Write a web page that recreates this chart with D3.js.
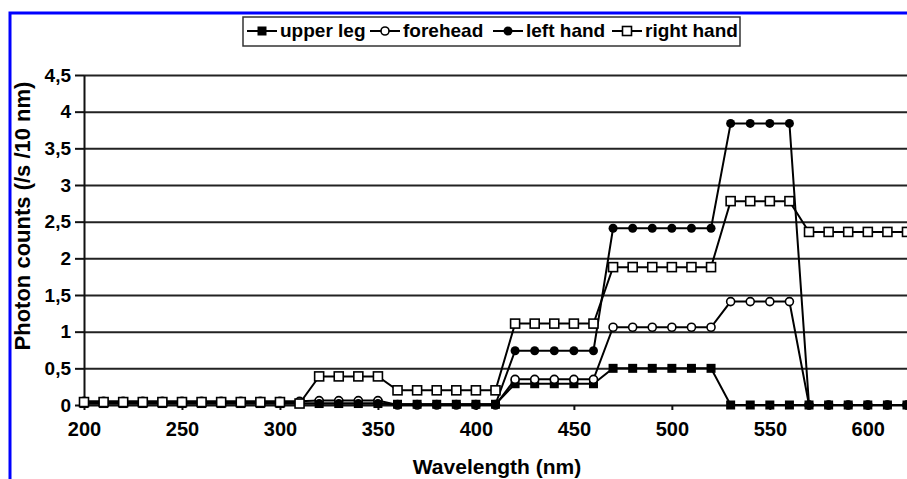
<!DOCTYPE html>
<html>
<head>
<meta charset="utf-8">
<script src="https://cdn.jsdelivr.net/npm/d3@7"></script>
<style>
  body { margin: 0; background: #fff; }
  text { font-family: "Liberation Sans", Arial, sans-serif; font-weight: bold; fill: #000; }
  .grid line { stroke: #222; stroke-width: 2; }
  .grid .domain { display: none; }
</style>
</head>
<body>
<div id="viz_container"></div>
<script>
// categories (nm)
const wavelengths = [200, 210, 220, 230, 240, 250, 260, 270, 280, 290, 300, 310, 320, 330, 340, 350,
    360, 370, 380, 390, 400, 410, 420, 430, 440, 450, 460, 470, 480, 490, 500, 510, 520,
    530, 540, 550, 560, 570, 580, 590, 600, 610, 620];

// photon counts (/s /10 nm)
const upperLeg = [0.02, 0.02, 0.02, 0.02, 0.02, 0.02, 0.02, 0.02, 0.02, 0.02, 0.02, 0.02, 0.02, 0.02, 0.02, 0.02,
    0.01, 0.01, 0.01, 0.01, 0.01, 0.01, 0.29, 0.29, 0.29, 0.29, 0.29, 0.5, 0.5, 0.5, 0.5, 0.5, 0.5,
    0, 0, 0, 0, 0, 0, 0, 0, 0, 0];
const forehead = [0.05, 0.05, 0.05, 0.05, 0.05, 0.05, 0.05, 0.05, 0.05, 0.05, 0.05, 0.05, 0.06, 0.06, 0.06, 0.06,
    0, 0, 0, 0, 0, 0, 0.35, 0.35, 0.35, 0.35, 0.35, 1.06, 1.06, 1.06, 1.06, 1.06, 1.06,
    1.41, 1.41, 1.41, 1.41, 0, 0, 0, 0, 0, 0];
const leftHand = [0.02, 0.02, 0.02, 0.02, 0.02, 0.02, 0.02, 0.02, 0.02, 0.02, 0.02, 0.02, 0.02, 0.02, 0.02, 0.02,
    0.01, 0.01, 0.01, 0.01, 0.01, 0.01, 0.74, 0.74, 0.74, 0.74, 0.74, 2.41, 2.41, 2.41, 2.41, 2.41, 2.41,
    3.84, 3.84, 3.84, 3.84, 0, 0, 0, 0, 0, 0];
const rightHand = [0.04, 0.04, 0.04, 0.04, 0.04, 0.04, 0.04, 0.04, 0.04, 0.04, 0.04, 0.02, 0.39, 0.39, 0.39, 0.39,
    0.2, 0.2, 0.2, 0.2, 0.2, 0.2, 1.11, 1.11, 1.11, 1.11, 1.11, 1.88, 1.88, 1.88, 1.88, 1.88, 1.88,
    2.78, 2.78, 2.78, 2.78, 2.36, 2.36, 2.36, 2.36, 2.36, 2.36];

const xTicks = [200, 250, 300, 350, 400, 450, 500, 550, 600];
const yTicks = [0, 0.5, 1, 1.5, 2, 2.5, 3, 3.5, 4, 4.5];

const seriesNames = ["upper leg", "forehead", "left hand", "right hand"];
const seriesValues = [upperLeg, forehead, leftHand, rightHand];
const markerTypes = ["filledSquare", "openCircle", "filledCircle", "openSquare"];

const W = 907, H = 479;
const plotLeft = 84, plotRight = 907, plotTop = 75, plotBottom = 405;

const svg = d3.select("#viz_container")
    .append("svg")
    .attr("width", W)
    .attr("height", H);

// blue frame
svg.append("rect")
    .attr("x", 10).attr("y", 13)
    .attr("width", 1000).attr("height", 1000)
    .attr("fill", "none")
    .attr("stroke", "#0000ff")
    .attr("stroke-width", 3);

const xScale = d3.scalePoint()
    .domain(wavelengths)
    .range([plotLeft, plotRight]);

const yScale = d3.scaleLinear()
    .domain([0, 4.5])
    .range([plotBottom, plotTop]);

// horizontal grid lines
svg.append("g")
    .attr("class", "grid")
    .attr("transform", `translate(${plotLeft},0)`)
    .call(d3.axisLeft(yScale).tickValues(yTicks.slice(1)).tickSize(-(plotRight - plotLeft + 5)).tickFormat(""));

// y axis
const yAxis = svg.append("g")
    .attr("transform", `translate(${plotLeft},0)`)
    .call(d3.axisLeft(yScale).tickValues(yTicks).tickSize(9).tickPadding(4).tickSizeOuter(0)
        .tickFormat(d => String(d).replace(".", ",")));
yAxis.selectAll("line, path").attr("stroke", "#111").attr("stroke-width", 2);
yAxis.selectAll("text").attr("font-size", 19).attr("fill", "#000");

// x axis
const xAxis = svg.append("g")
    .attr("transform", `translate(0,${plotBottom})`)
    .call(d3.axisBottom(xScale).tickValues(xTicks).tickSize(5).tickPadding(12).tickSizeOuter(0));
xAxis.selectAll("line, path").attr("stroke", "#111").attr("stroke-width", 2);
xAxis.selectAll("text").attr("font-size", 20).attr("fill", "#000");

// axis titles
svg.append("text")
    .attr("transform", `translate(30, 216) rotate(-90)`)
    .attr("text-anchor", "middle")
    .attr("font-size", 22)
    .text("Photon counts (/s /10 nm)");

svg.append("text")
    .attr("x", 497)
    .attr("y", 474)
    .attr("text-anchor", "middle")
    .attr("font-size", 21)
    .text("Wavelength (nm)");

// marker drawing
function drawMarker(g, type, x, y) {
    if (type === "filledSquare") {
        g.append("rect").attr("x", x - 4.5).attr("y", y - 4.5).attr("width", 9).attr("height", 9)
            .attr("fill", "#000");
    } else if (type === "openSquare") {
        g.append("rect").attr("x", x - 4.5).attr("y", y - 4.5).attr("width", 9).attr("height", 9)
            .attr("fill", "#fff").attr("stroke", "#000").attr("stroke-width", 1.6);
    } else if (type === "openCircle") {
        g.append("circle").attr("cx", x).attr("cy", y).attr("r", 4)
            .attr("fill", "#fff").attr("stroke", "#000").attr("stroke-width", 1.6);
    } else {
        g.append("circle").attr("cx", x).attr("cy", y).attr("r", 4.5)
            .attr("fill", "#000");
    }
}

const line = d3.line()
    .x(d => xScale(d[0]))
    .y(d => yScale(d[1]));

seriesValues.forEach((vals, i) => {
    const pts = wavelengths.map((w, j) => [w, vals[j]]);
    const g = svg.append("g");
    g.append("path")
        .attr("d", line(pts))
        .attr("fill", "none")
        .attr("stroke", "#000")
        .attr("stroke-width", 2);
    pts.forEach(p => drawMarker(g, markerTypes[i], xScale(p[0]), yScale(p[1])));
});

// legend
const legend = svg.append("g");
legend.append("rect")
    .attr("x", 243).attr("y", 17)
    .attr("width", 497).attr("height", 29)
    .attr("fill", "#fff")
    .attr("stroke", "#333")
    .attr("stroke-width", 1.5);

const legendStarts = [247, 370, 493, 612];
seriesNames.forEach((name, i) => {
    const lx = legendStarts[i];
    legend.append("line")
        .attr("x1", lx).attr("x2", lx + 30)
        .attr("y1", 31).attr("y2", 31)
        .attr("stroke", "#000").attr("stroke-width", 2);
    drawMarker(legend, markerTypes[i], lx + 15, 31);
    legend.append("text")
        .attr("x", lx + 33)
        .attr("y", 37)
        .attr("font-size", 19)
        .text(name);
});
</script>
</body>
</html>
